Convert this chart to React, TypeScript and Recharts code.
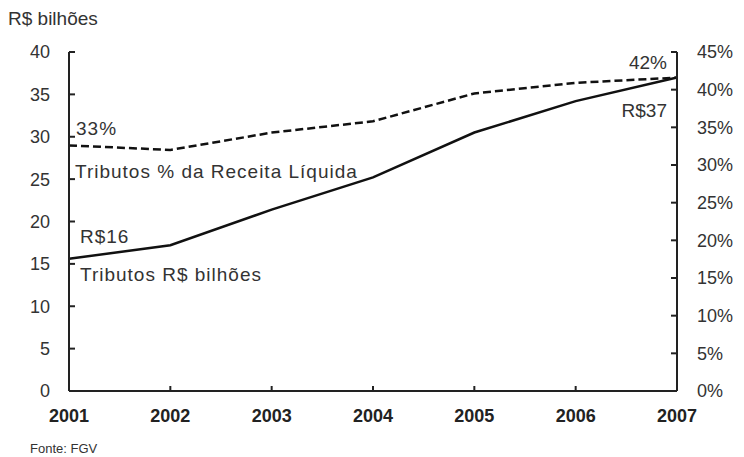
import React from 'react';
import { LineChart, Line, XAxis, YAxis } from 'recharts';

const years = ['2001', '2002', '2003', '2004', '2005', '2006', '2007'];
const tributosBilhoes = [15.6, 17.2, 21.4, 25.2, 30.5, 34.2, 37.0];
const tributosPctReceita = [32.6, 32.0, 34.3, 35.8, 39.5, 40.9, 41.6];
const leftTicks = [0, 5, 10, 15, 20, 25, 30, 35, 40];
const rightTicks = [0, 5, 10, 15, 20, 25, 30, 35, 40, 45];

const data = years.map((year, i) => ({
  year,
  bilhoes: tributosBilhoes[i],
  pct: tributosPctReceita[i],
}));

const FONT = '"Liberation Sans", Arial, sans-serif';
const TEXT = '#333';
const last = years.length - 1;

function BilhoesLabel(props: any) {
  const { x, y, index, value } = props;
  if (index === 0) {
    return (
      <g fontFamily={FONT} fontSize={19} fill={TEXT} letterSpacing={1}>
        <text x={x + 11} y={y - 16}>R${Math.round(value)}</text>
        <text x={x + 11} y={y + 22}>Tributos R$ bilhões</text>
      </g>
    );
  }
  if (index === last) {
    return (
      <text x={x - 10} y={y + 40} textAnchor="end" fontFamily={FONT} fontSize={19} fill={TEXT}>
        R${Math.round(value)}
      </text>
    );
  }
  return null;
}

function PctLabel(props: any) {
  const { x, y, index, value } = props;
  if (index === 0) {
    return (
      <g fontFamily={FONT} fontSize={19} fill={TEXT} letterSpacing={1}>
        <text x={x + 7} y={y - 10}>{Math.round(value)}%</text>
        <text x={x + 6} y={y + 33}>Tributos % da Receita Líquida</text>
      </g>
    );
  }
  if (index === last) {
    return (
      <text x={x - 10} y={y - 9} textAnchor="end" fontFamily={FONT} fontSize={19} fill={TEXT}>
        {Math.round(value)}%
      </text>
    );
  }
  return null;
}

export default function App() {
  return (
    <div style={{ position: 'absolute', left: 0, top: 0, width: 744, height: 457, background: '#fff', fontFamily: FONT }}>
      <div style={{ position: 'absolute', left: 8, top: 8, fontSize: 19, color: TEXT }}>R$ bilhões</div>
      <LineChart width={744} height={457} data={data} margin={{ top: 52, right: 7, bottom: 26, left: 19 }}>
        <XAxis
          dataKey="year"
          axisLine={{ stroke: '#222', strokeWidth: 2 }}
          tickLine={{ stroke: '#222', strokeWidth: 2 }}
          tickSize={-5}
          tickMargin={23}
          height={40}
          tick={{ fill: '#222', fontSize: 18, fontWeight: 'bold', fontFamily: FONT }}
          interval={0}
        />
        <YAxis
          yAxisId="left"
          domain={[0, 40]}
          ticks={leftTicks}
          width={50}
          axisLine={{ stroke: '#222', strokeWidth: 2 }}
          tickLine={{ stroke: '#222', strokeWidth: 2 }}
          tickSize={-6}
          tickMargin={25}
          tick={{ fill: TEXT, fontSize: 18, fontFamily: FONT }}
          interval={0}
        />
        <YAxis
          yAxisId="right"
          orientation="right"
          domain={[0, 45]}
          ticks={rightTicks}
          width={60}
          axisLine={{ stroke: '#222', strokeWidth: 2 }}
          tickLine={{ stroke: '#222', strokeWidth: 2 }}
          tickSize={-6}
          tickMargin={26}
          tickFormatter={(v: number) => `${v}%`}
          tick={{ fill: TEXT, fontSize: 18, fontFamily: FONT }}
          interval={0}
        />
        <Line
          yAxisId="right"
          type="linear"
          dataKey="pct"
          stroke="#111"
          strokeWidth={2.5}
          strokeDasharray="8 4"
          dot={false}
          isAnimationActive={false}
          label={<PctLabel />}
        />
        <Line
          yAxisId="left"
          type="linear"
          dataKey="bilhoes"
          stroke="#111"
          strokeWidth={2.5}
          dot={false}
          isAnimationActive={false}
          label={<BilhoesLabel />}
        />
      </LineChart>
      <div style={{ position: 'absolute', left: 30, top: 441, fontSize: 13, color: TEXT }}>Fonte: FGV</div>
    </div>
  );
}
